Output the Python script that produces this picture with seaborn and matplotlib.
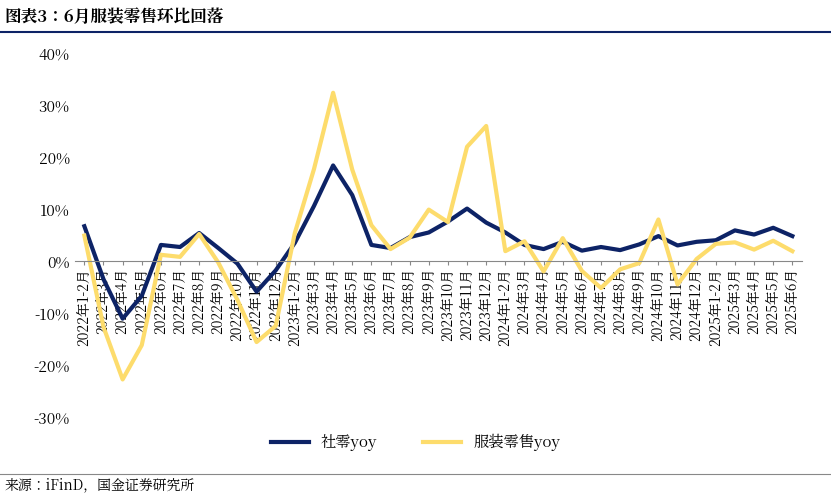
import numpy as np
import pandas as pd
import seaborn as sb
import matplotlib.pyplot as plt
from matplotlib import font_manager
from matplotlib.lines import Line2D

# find a CJK font that matplotlib knows about
cjk = [f.name for f in font_manager.fontManager.ttflist if 'CJK' in f.name]
cjk_name = 'Noto Sans CJK SC' if 'Noto Sans CJK SC' in cjk else (cjk[0] if cjk else 'DejaVu Sans')
plt.rcParams['font.family'] = 'sans-serif'
plt.rcParams['font.sans-serif'] = [cjk_name, 'DejaVu Sans']
plt.rcParams['axes.unicode_minus'] = False

# month labels
months = ['2022年1-2月'] + ['2022年%d月' % m for m in range(3, 13)] \
    + ['2023年1-2月'] + ['2023年%d月' % m for m in range(3, 13)] \
    + ['2024年1-2月'] + ['2024年%d月' % m for m in range(3, 13)] \
    + ['2025年1-2月'] + ['2025年%d月' % m for m in range(3, 7)]

retail_yoy = [6.7, -3.5, -11.1, -6.7, 3.1, 2.7, 5.4, 2.5, -0.5, -5.9, -1.8,
              3.5, 10.6, 18.4, 12.7, 3.1, 2.5, 4.6, 5.5, 7.6, 10.1, 7.4,
              5.5, 3.1, 2.3, 3.7, 2.0, 2.7, 2.1, 3.2, 4.8, 3.0, 3.7,
              4.0, 5.9, 5.1, 6.4, 4.8]
apparel_yoy = [4.9, -12.7, -22.8, -16.2, 1.2, 0.8, 5.2, -0.3, -7.5, -15.6, -12.5,
               5.4, 17.7, 32.4, 17.6, 6.9, 2.3, 4.5, 9.9, 7.5, 22.0, 26.0,
               1.9, 3.8, -2.0, 4.4, -1.9, -5.2, -1.6, -0.4, 8.0, -4.5, 0.4,
               3.3, 3.6, 2.2, 3.9, 1.9]

df = pd.DataFrame({'x': np.arange(len(months)), '社零yoy': retail_yoy, '服装零售yoy': apparel_yoy})
long = df.melt(id_vars='x', var_name='series', value_name='val')

fig = plt.figure(figsize=(8.31, 4.98), dpi=100)
ax = fig.add_axes([0.09, 0.163, 0.875, 0.73])
sb.lineplot(data=long, x='x', y='val', hue='series', ax=ax, linewidth=3,
            palette={'社零yoy': '#0d2366', '服装零售yoy': '#fddc6c'}, legend=False)

ax.set_ylim(-30, 40)
ax.set_yticks(range(-30, 41, 10))
ax.set_yticklabels(['%d%%' % v for v in range(-30, 41, 10)], fontsize=11)
ax.set_xlim(-0.5, len(months) - 0.5)
ax.set_xticks(df['x'])
ax.set_xticklabels(months, fontsize=11)
ax.spines['bottom'].set_position(('data', 0))
ax.spines['bottom'].set_color('#888888')
for s in ['top', 'right', 'left']:
    ax.spines[s].set_visible(False)
ax.tick_params(axis='y', length=0)
ax.tick_params(axis='x', length=3, color='#888888', pad=2)
ax.set_xlabel('')
ax.set_ylabel('')
plt.setp(ax.get_xticklabels(), rotation=90, ha='center', va='top')

# legend
handles = [Line2D([], [], color='#0d2366', lw=3), Line2D([], [], color='#fddc6c', lw=3)]
fig.legend(handles, ['社零yoy', '服装零售yoy'], loc='center', bbox_to_anchor=(0.5, 0.112),
           ncol=2, frameon=False, fontsize=11, handlelength=2.5, columnspacing=3)

fig.text(0.005, 0.965, '图表3：6月服装零售环比回落', fontsize=12, fontweight='bold', style='italic', va='center')
fig.add_artist(Line2D([0, 1], [0.935, 0.935], color='#0d2366', lw=1.5))
fig.add_artist(Line2D([0, 1], [0.048, 0.048], color='#888888', lw=0.8))
fig.text(0.005, 0.025, '来源：iFinD，国金证券研究所', fontsize=10, va='center')

fig.savefig('out.png', dpi=100)
